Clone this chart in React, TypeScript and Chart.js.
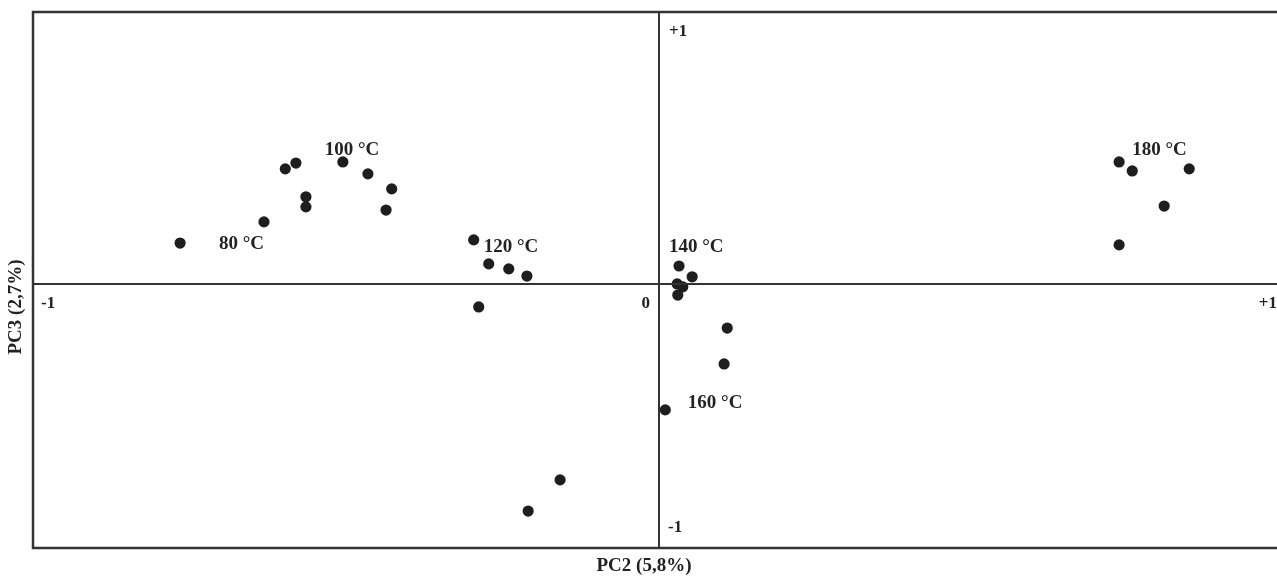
import React, { useEffect, useRef } from "react";
import { Chart, registerables } from "chart.js";

Chart.register(...registerables);

// PC2 (x) and PC3 (y) scores, grouped by temperature
const pts80x = [-0.765, -0.631];
const pts80y = [0.155, 0.235];
const pts100x = [-0.597, -0.58, -0.564, -0.564, -0.505, -0.465, -0.427, -0.436];
const pts100y = [0.436, 0.458, 0.33, 0.292, 0.462, 0.417, 0.36, 0.28];
const pts120x = [-0.296, -0.272, -0.24, -0.211, -0.288];
const pts120y = [0.167, 0.076, 0.057, 0.03, -0.087];
const pts140x = [0.032, 0.053, 0.029, 0.038, 0.03];
const pts140y = [0.068, 0.027, 0.0, -0.011, -0.042];
const pts160x = [0.109, 0.104, 0.01, -0.158, -0.209];
const pts160y = [-0.167, -0.303, -0.477, -0.742, -0.86];
const pts180x = [0.735, 0.756, 0.847, 0.807, 0.735];
const pts180y = [0.462, 0.428, 0.436, 0.295, 0.148];

const groupLabels = ["80 °C", "100 °C", "120 °C", "140 °C", "160 °C", "180 °C"];
const labelX = [-0.703, -0.534, -0.28, 0.016, 0.046, 0.756];
const labelY = [0.152, 0.508, 0.14, 0.14, -0.451, 0.508];

const xAxisTitle = "PC2 (5,8%)";
const yAxisTitle = "PC3 (2,7%)";
const xMin = -1;
const xMax = 1;
const yMin = -1;
const yMax = 1.03;

const zip = (xs: number[], ys: number[]) => xs.map((x, i) => ({ x, y: ys[i] }));

const FONT = "'Liberation Serif', 'Times New Roman', serif";

const overlayPlugin = {
  id: "pcaOverlay",
  afterDatasetsDraw(chart: any) {
    const { ctx, chartArea: a, scales } = chart;
    const xs = scales.x;
    const ys = scales.y;
    const x0 = xs.getPixelForValue(0);
    const y0 = ys.getPixelForValue(0);
    ctx.save();
    // frame
    ctx.strokeStyle = "#333";
    ctx.lineWidth = 2.5;
    ctx.beginPath();
    ctx.moveTo(a.right + 20, a.top);
    ctx.lineTo(a.left, a.top);
    ctx.lineTo(a.left, a.bottom);
    ctx.lineTo(a.right + 20, a.bottom);
    ctx.stroke();
    // center axes
    ctx.lineWidth = 2;
    ctx.beginPath();
    ctx.moveTo(a.left, y0);
    ctx.lineTo(a.right + 20, y0);
    ctx.moveTo(x0, a.top);
    ctx.lineTo(x0, a.bottom);
    ctx.stroke();

    ctx.fillStyle = "#222";
    // tick labels
    ctx.font = `bold 17px ${FONT}`;
    ctx.textBaseline = "middle";
    ctx.textAlign = "left";
    ctx.fillText("-1", xs.getPixelForValue(-1) + 8, y0 + 20);
    ctx.textAlign = "right";
    ctx.fillText("0", x0 - 9, y0 + 20);
    ctx.fillText("+1", xs.getPixelForValue(1) - 8, y0 + 20);
    ctx.textAlign = "left";
    ctx.fillText("+1", x0 + 10, ys.getPixelForValue(1) + 12);
    ctx.fillText("-1", x0 + 9, ys.getPixelForValue(-1) - 20);

    // group labels
    ctx.font = `bold 19px ${FONT}`;
    ctx.textAlign = "left";
    groupLabels.forEach((t, i) => {
      ctx.fillText(t, xs.getPixelForValue(labelX[i]), ys.getPixelForValue(labelY[i]));
    });

    // axis titles
    ctx.font = `bold 19px ${FONT}`;
    ctx.textAlign = "center";
    ctx.fillText(xAxisTitle, x0 - 15, a.bottom + 18);
    ctx.save();
    ctx.translate(16, (a.top + a.bottom) / 2 + 27);
    ctx.rotate(-Math.PI / 2);
    ctx.fillText(yAxisTitle, 0, 0);
    ctx.restore();
    ctx.restore();
  },
};

export default function App() {
  const ref = useRef<HTMLCanvasElement | null>(null);
  useEffect(() => {
    if (!ref.current) return;
    const mk = (label: string, xs: number[], ys: number[]) => ({
      label,
      data: zip(xs, ys),
      backgroundColor: "#1e1e1e",
      borderColor: "#1e1e1e",
      pointRadius: 5.6,
      pointHoverRadius: 5.6,
      borderWidth: 0,
    });
    const chart = new Chart(ref.current, {
      type: "scatter",
      data: {
        datasets: [
          mk("80", pts80x, pts80y),
          mk("100", pts100x, pts100y),
          mk("120", pts120x, pts120y),
          mk("140", pts140x, pts140y),
          mk("160", pts160x, pts160y),
          mk("180", pts180x, pts180y),
        ],
      },
      options: {
        responsive: false,
        animation: false,
        layout: { padding: { left: 33, top: 12, right: 15, bottom: 29 } },
        plugins: { legend: { display: false }, tooltip: { enabled: false } },
        scales: {
          x: { type: "linear", min: xMin, max: xMax, display: false },
          y: { type: "linear", min: yMin, max: yMax, display: false },
        },
      },
      plugins: [overlayPlugin],
    });
    return () => chart.destroy();
  }, []);
  return (
    <div
      style={{
        position: "fixed",
        left: 0,
        top: 0,
        width: 1277,
        height: 577,
        overflow: "hidden",
        background: "#fff",
      }}
    >
      <canvas ref={ref} width={1300} height={577} style={{ width: 1300, height: 577, display: "block" }} />
    </div>
  );
}
